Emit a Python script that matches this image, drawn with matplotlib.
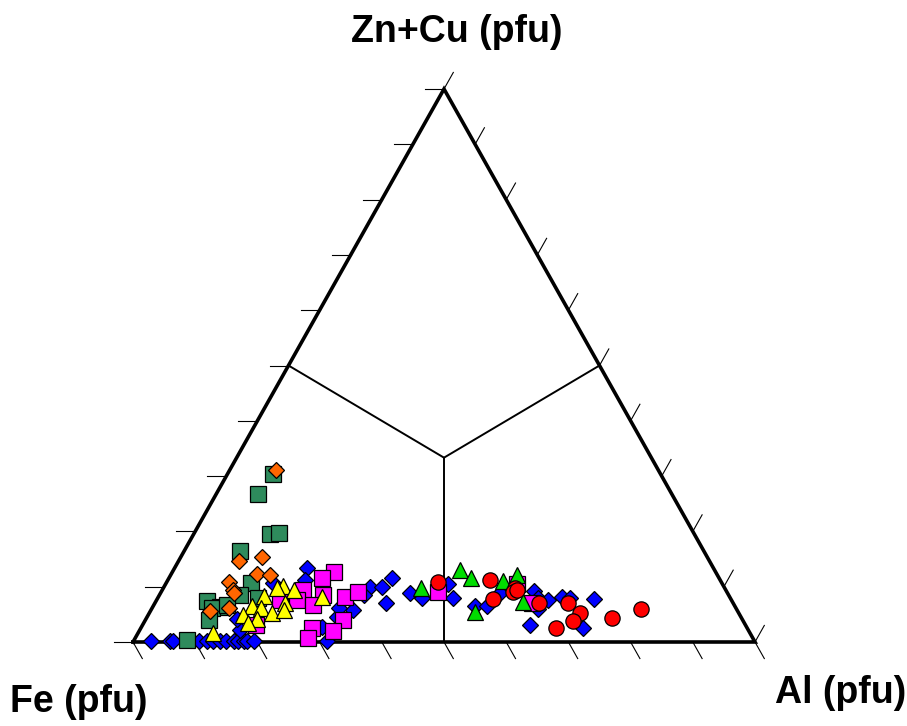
import matplotlib.pyplot as plt
import numpy as np

# Compositions as fractions of the (Fe + Al + Zn+Cu) total; Fe is the remainder.
blue_al = [0.0285, 0.0584, 0.0638, 0.105, 0.1185, 0.1286, 0.1387, 0.1495, 0.1613, 0.1688,
           0.1773, 0.1833, 0.1934, 0.1612, 0.1462, 0.1725, 0.2121, 0.2204, 0.331, 0.3503,
           0.3578, 0.3713, 0.3253, 0.3046, 0.3115, 0.2896, 0.3289, 0.3012, 0.4013, 0.4246,
           0.4547, 0.4755, 0.517, 0.5359, 0.546, 0.6229, 0.5983, 0.6121, 0.6297, 0.622,
           0.6482, 0.6631, 0.703, 0.71]
blue_zn = [0.001, 0.001, 0.001, 0.001, 0.001, 0.001, 0.001, 0.001, 0.001, 0.001,
           0.001, 0.001, 0.002, 0.0217, 0.041, 0.1061, 0.1344, 0.1121, 0.100, 0.0989,
           0.1163, 0.0711, 0.0579, 0.0458, 0.0018, 0.0277, 0.085, 0.0609, 0.0881, 0.079,
           0.1043, 0.079, 0.0656, 0.0656, 0.0881, 0.0307, 0.0928, 0.079, 0.0759, 0.0591,
           0.0819, 0.079, 0.0772, 0.0259]

green_sq_al = [0.073, 0.0664, 0.1229, 0.1369, 0.0897, 0.1356, 0.0814, 0.108, 0.096, 0.1295,
               0.1028, 0.1619, 0.0845, 0.1171]
green_sq_zn = [0.3033, 0.2682, 0.1948, 0.1966, 0.1646, 0.1072, 0.0741, 0.0638, 0.0609, 0.085,
               0.0398, 0.079, 0.0036, 0.0669]

orange_al = [0.0739, 0.0977, 0.1298, 0.1377, 0.1597, 0.1003, 0.1133, 0.1178, 0.0955, 0.1243]
orange_zn = [0.311, 0.1465, 0.1542, 0.1224, 0.1212, 0.109, 0.094, 0.0892, 0.0566, 0.0609]

magenta_al = [0.2596, 0.2467, 0.2268, 0.2634, 0.2252, 0.2564, 0.2998, 0.3167, 0.3172, 0.2743,
              0.312, 0.2784, 0.4453, 0.5657, 0.6055, 0.1983, 0.1823]
magenta_zn = [0.1271, 0.1152, 0.094, 0.085, 0.0759, 0.0669, 0.0819, 0.091, 0.0398, 0.0259,
              0.0199, 0.0067, 0.091, 0.1043, 0.0711, 0.0759, 0.0307]

yellow_al = [0.191, 0.2123, 0.1824, 0.1687, 0.2624, 0.2089, 0.1582, 0.1746, 0.1965, 0.2143,
             0.1529, 0.1784, 0.1669, 0.1207]
yellow_zn = [0.1013, 0.094, 0.0971, 0.0837, 0.0819, 0.0711, 0.0651, 0.0615, 0.053, 0.0579,
             0.0488, 0.041, 0.0349, 0.0168]

green_tri_al = [0.414, 0.4606, 0.4858, 0.5392, 0.5573, 0.5224, 0.5911]
green_tri_zn = [0.0971, 0.1302, 0.1152, 0.1103, 0.1212, 0.0548, 0.0729]

red_al = [0.4354, 0.5179, 0.5655, 0.5656, 0.5407, 0.6177, 0.6643, 0.6926, 0.6889, 0.6677,
          0.7482, 0.7869, 0.5699]
red_zn = [0.109, 0.1121, 0.0971, 0.0899, 0.0772, 0.0711, 0.0711, 0.0519, 0.038, 0.0248,
          0.0429, 0.0597, 0.094]

ticks = np.linspace(0, 1, 11)


def to_xy(al, zn):
    al = np.asarray(al)
    zn = np.asarray(zn)
    return al + zn / 2, zn


fig = plt.figure(figsize=(9.07, 7.26), dpi=100)
W, H = 907, 726
ax = fig.add_axes([133 / W, (H - 642) / H, 622 / W, 553 / H])
ax.set_xlim(0, 1)
ax.set_ylim(0, 1)
ax.axis("off")

# triangle frame
ax.plot([0, 1, 0.5, 0], [0, 0, 1, 0], color="black", lw=2.6, clip_on=False,
        solid_joinstyle="miter", zorder=3)

# boundaries between the dominant-component fields
cx, cy = 0.5, 1 / 3
for ex, ey in [(0.25, 0.5), (0.75, 0.5), (0.5, 0.0)]:
    ax.plot([cx, ex], [cy, ey], color="black", lw=1.4, zorder=2)

# tick marks, 19 px long, in data units
px_x, px_y = 1 / 622, 1 / 553
L = 19
sx, sy = 311 / np.hypot(311, 553), 553 / np.hypot(311, 553)
for t in ticks:
    # bottom (Fe-Al) edge: slant down-right
    ax.plot([t, t + L * sx * px_x], [0, -L * sy * px_y], color="black", lw=0.8, clip_on=False)
    # left edge: horizontal, pointing left
    ax.plot([t / 2, t / 2 - L * px_x], [t, t], color="black", lw=0.8, clip_on=False)
    # right edge: slant up-right
    rx = 1 - t / 2
    ax.plot([rx, rx + L * sx * px_x], [t, t + L * sy * px_y], color="black", lw=0.8, clip_on=False)

series = [
    (blue_al, blue_zn, "D", 8.3, "#0000ff"),
    (green_sq_al, green_sq_zn, "s", 11.5, "#2e8b5c"),
    (orange_al, orange_zn, "D", 8.3, "#ff6600"),
    (magenta_al, magenta_zn, "s", 11.5, "#ff00ff"),
    (yellow_al, yellow_zn, "^", 12, "#ffff00"),
    (green_tri_al, green_tri_zn, "^", 12, "#00dd00"),
    (red_al, red_zn, "o", 11, "#ff0000"),
]
for i, (al, zn, marker, ms, color) in enumerate(series):
    x, y = to_xy(al, zn)
    ax.plot(x, y, linestyle="none", marker=marker, markersize=ms, markerfacecolor=color,
            markeredgecolor="black", markeredgewidth=0.9, clip_on=False, zorder=4 + i)

label_kw = dict(fontsize=27, fontweight="bold", family=["Liberation Sans", "DejaVu Sans"])
fig.text(457 / W, 1 - 41.7 / H, "Zn+Cu (pfu)", ha="center", va="baseline", **label_kw)
fig.text(10 / W, 1 - 712 / H, "Fe (pfu)", ha="left", va="baseline", **label_kw)
fig.text(775 / W, 1 - 703 / H, "Al (pfu)", ha="left", va="baseline", **label_kw)

fig.savefig("out.png", dpi=100)
